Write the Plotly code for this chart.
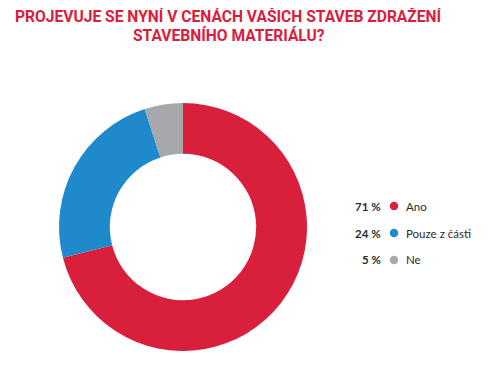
import plotly.graph_objects as go

labels = ["Ano", "Pouze z části", "Ne"]
values = [71, 24, 5]
colors = ["#D8203D", "#1F8ACB", "#A6A8AB"]
title_lines = ["PROJEVUJE SE NYNÍ V CENÁCH VAŠICH STAVEB ZDRAŽENÍ", "STAVEBNÍHO MATERIÁLU?"]

# page has 8px body margin; figure sized to fit the window
W, H, OFF = 488, 360, 8


def px(x):
    return (x - OFF) / W


def py(y):
    return 1 - (y - OFF) / H


fig = go.Figure()
fig.add_trace(go.Pie(
    labels=labels, values=values, hole=0.59, sort=False,
    direction="clockwise", rotation=0,
    marker=dict(colors=colors, line=dict(width=0)),
    textinfo="none", hoverinfo="label+percent", showlegend=False,
    domain=dict(x=[px(59), px(307)], y=[py(351), py(103)]),
))

# legend rows
row_y = [py(206), py(233), py(260)]
fig.add_trace(go.Scatter(
    x=[px(394)] * len(labels), y=row_y, mode="markers",
    marker=dict(color=colors, size=8.5), showlegend=False, hoverinfo="skip",
    xaxis="x", yaxis="y",
))
for lab, val, yy in zip(labels, values, row_y):
    fig.add_annotation(x=px(382.5), y=yy, xref="paper", yref="paper", text=f"<b>{val} %</b>",
                       showarrow=False, xanchor="right", yanchor="middle",
                       font=dict(family="Lato", size=11.5, color="#2b2b2b"))
    fig.add_annotation(x=px(404), y=yy, xref="paper", yref="paper", text=lab,
                       showarrow=False, xanchor="left", yanchor="middle",
                       font=dict(family="Lato", size=11.5, color="#2b2b2b"))

for i, line in enumerate(title_lines):
    fig.add_annotation(x=px(229), y=py(16 + 19.5 * i), xref="paper", yref="paper",
                       text=f"<b>{line}</b>", showarrow=False, xanchor="center", yanchor="middle",
                       font=dict(family="Roboto", size=15.6, color="#D8203D"))

fig.update_layout(
    width=W, height=H, margin=dict(l=0, r=0, t=0, b=0),
    paper_bgcolor="white", plot_bgcolor="white",
    xaxis=dict(range=[0, 1], domain=[0, 1], visible=False, fixedrange=True),
    yaxis=dict(range=[0, 1], domain=[0, 1], visible=False, fixedrange=True),
)
fig.write_html("out.html")
